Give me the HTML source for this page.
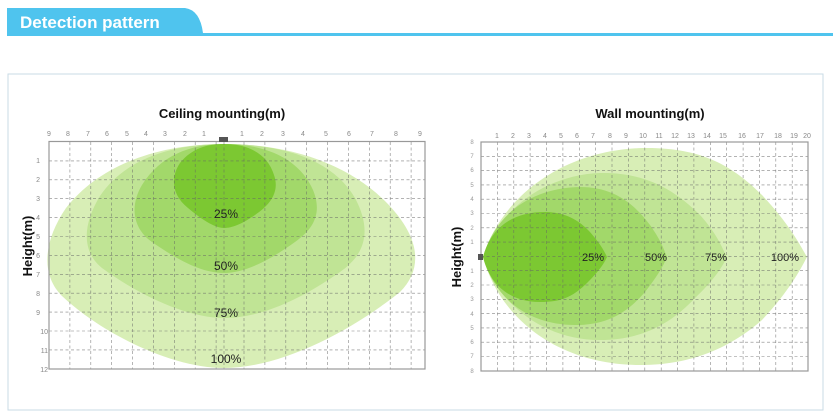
<!DOCTYPE html>
<html><head><meta charset="utf-8"><style>
html,body{margin:0;padding:0;background:#fff;width:833px;height:420px;overflow:hidden}
svg{display:block}
</style></head><body>
<svg width="833" height="420" viewBox="0 0 833 420" xmlns="http://www.w3.org/2000/svg" font-family="Liberation Sans, sans-serif">
<!-- header -->
<path d="M7,8 H185 Q200,10 203,33 H833 V36 H7 Z" fill="#4fc4ee"/>
<text x="20" y="28" fill="#fff" font-size="17" font-weight="bold">Detection pattern</text>
<rect x="8" y="74" width="815" height="336" fill="none" stroke="#c9dbe6" stroke-width="1"/>

<!-- LEFT CHART -->
<text x="222" y="118" text-anchor="middle" font-size="13" font-weight="bold" fill="#111">Ceiling mounting(m)</text>
<text transform="translate(32,246) rotate(-90)" text-anchor="middle" font-size="13" font-weight="bold" fill="#111">Height(m)</text>
<g>
<path d="M224,144 C300,144 360,170 395,212 C420,242 422,270 400,292 C350,332 280,368 224,368 C170,368 100,332 62,296 C40,274 44,240 66,208 C100,164 160,144 224,144 Z" fill="#d8eeb6"/>
<path d="M224,144 C290,144 335,163 355,198 C372,230 366,254 340,272 C300,300 260,318 224,318 C188,318 140,296 102,268 C80,250 84,222 100,196 C124,160 170,144 224,144 Z" fill="#c0e495"/>
<path d="M224,144 C268,144 300,160 313,190 C322,212 315,228 295,242 C270,260 245,273 224,273 C200,273 175,258 152,242 C132,228 130,205 142,185 C160,156 190,144 224,144 Z" fill="#a2d86a"/>
<path d="M224,144 C250,144 268,155 274,175 C280,192 270,205 255,215 C242,224 232,228 224,228 C214,228 200,218 188,208 C172,195 170,178 180,163 C192,148 208,144 224,144 Z" fill="#7cc832"/>
</g>
<g stroke="#666" stroke-width="0.6" stroke-dasharray="3,2.5" opacity="0.8">
<line x1="69.9" y1="142" x2="69.9" y2="369"/><line x1="90.8" y1="142" x2="90.8" y2="369"/><line x1="111.7" y1="142" x2="111.7" y2="369"/><line x1="132.6" y1="142" x2="132.6" y2="369"/><line x1="153.4" y1="142" x2="153.4" y2="369"/><line x1="174.3" y1="142" x2="174.3" y2="369"/><line x1="195.2" y1="142" x2="195.2" y2="369"/><line x1="216.1" y1="142" x2="216.1" y2="369"/><line x1="224" y1="142" x2="224" y2="369"/><line x1="244" y1="142" x2="244" y2="369"/><line x1="264.9" y1="142" x2="264.9" y2="369"/><line x1="285.8" y1="142" x2="285.8" y2="369"/><line x1="306.7" y1="142" x2="306.7" y2="369"/><line x1="327.6" y1="142" x2="327.6" y2="369"/><line x1="348.4" y1="142" x2="348.4" y2="369"/><line x1="369.3" y1="142" x2="369.3" y2="369"/><line x1="390.2" y1="142" x2="390.2" y2="369"/><line x1="411.1" y1="142" x2="411.1" y2="369"/>
<line x1="49" y1="160.9" x2="425" y2="160.9"/><line x1="49" y1="179.8" x2="425" y2="179.8"/><line x1="49" y1="198.7" x2="425" y2="198.7"/><line x1="49" y1="217.6" x2="425" y2="217.6"/><line x1="49" y1="236.5" x2="425" y2="236.5"/><line x1="49" y1="255.4" x2="425" y2="255.4"/><line x1="49" y1="274.3" x2="425" y2="274.3"/><line x1="49" y1="293.2" x2="425" y2="293.2"/><line x1="49" y1="312.1" x2="425" y2="312.1"/><line x1="49" y1="331" x2="425" y2="331"/><line x1="49" y1="349.9" x2="425" y2="349.9"/>
</g>
<rect x="49" y="141.5" width="376" height="227.5" fill="none" stroke="#999" stroke-width="1.2"/>
<rect x="219" y="137" width="9" height="5" fill="#555"/>
<g font-size="7" fill="#888" text-anchor="middle">
<text x="49" y="136">9</text><text x="68" y="136">8</text><text x="88" y="136">7</text><text x="107" y="136">6</text><text x="127" y="136">5</text><text x="146" y="136">4</text><text x="165" y="136">3</text><text x="185" y="136">2</text><text x="204" y="136">1</text><text x="242" y="136">1</text><text x="262" y="136">2</text><text x="283" y="136">3</text><text x="303" y="136">4</text><text x="326" y="136">5</text><text x="349" y="136">6</text><text x="372" y="136">7</text><text x="396" y="136">8</text><text x="420" y="136">9</text>
</g>
<g font-size="7" fill="#888" text-anchor="end">
<text x="40" y="163">1</text><text x="40" y="182">2</text><text x="40" y="201">3</text><text x="40" y="220">4</text><text x="40" y="239">5</text><text x="40" y="258">6</text><text x="40" y="277">7</text><text x="40" y="296">8</text><text x="40" y="315">9</text><text x="48" y="334">10</text><text x="48" y="353">11</text><text x="48" y="372">12</text>
</g>
<g font-size="12" fill="#222" text-anchor="middle">
<text x="226" y="218">25%</text><text x="226" y="270">50%</text><text x="226" y="317">75%</text><text x="226" y="363">100%</text>
</g>

<!-- RIGHT CHART -->
<text x="650" y="118" text-anchor="middle" font-size="13" font-weight="bold" fill="#111">Wall mounting(m)</text>
<text transform="translate(461,257) rotate(-90)" text-anchor="middle" font-size="13" font-weight="bold" fill="#111">Height(m)</text>
<g>
<path d="M483,257 C500,200 560,150 643,148 C700,147 732,165 762,195 C790,225 800,245 807,257 C800,270 790,290 762,320 C722,355 680,365 640,365 C560,365 500,320 483,257 Z" fill="#d8eeb6"/>
<path d="M483,257 C498,210 545,175 600,173 C645,172 675,190 700,215 C718,235 722,248 727,257 C722,268 712,282 695,298 C670,325 640,340 600,340 C545,340 498,305 483,257 Z" fill="#c0e495"/>
<path d="M483,257 C495,215 530,188 580,187 C615,187 635,205 650,225 C662,242 664,250 667,257 C663,267 656,278 645,292 C625,315 605,325 575,325 C530,325 495,300 483,257 Z" fill="#a2d86a"/>
<path d="M483,257 C492,225 515,212 545,212 C570,212 585,225 595,238 C603,248 605,253 607,257 C604,264 598,272 588,282 C572,298 560,302 540,302 C510,302 490,285 483,257 Z" fill="#7cc832"/>
</g>
<g stroke="#666" stroke-width="0.6" stroke-dasharray="3,2.5" opacity="0.8">
<line x1="497.4" y1="142" x2="497.4" y2="371"/><line x1="513.8" y1="142" x2="513.8" y2="371"/><line x1="530.1" y1="142" x2="530.1" y2="371"/><line x1="546.5" y1="142" x2="546.5" y2="371"/><line x1="562.9" y1="142" x2="562.9" y2="371"/><line x1="579.3" y1="142" x2="579.3" y2="371"/><line x1="595.7" y1="142" x2="595.7" y2="371"/><line x1="612" y1="142" x2="612" y2="371"/><line x1="628.4" y1="142" x2="628.4" y2="371"/><line x1="644.8" y1="142" x2="644.8" y2="371"/><line x1="661.2" y1="142" x2="661.2" y2="371"/><line x1="677.6" y1="142" x2="677.6" y2="371"/><line x1="693.9" y1="142" x2="693.9" y2="371"/><line x1="710.3" y1="142" x2="710.3" y2="371"/><line x1="726.7" y1="142" x2="726.7" y2="371"/><line x1="743.1" y1="142" x2="743.1" y2="371"/><line x1="759.5" y1="142" x2="759.5" y2="371"/><line x1="775.8" y1="142" x2="775.8" y2="371"/><line x1="792.2" y1="142" x2="792.2" y2="371"/>
<line x1="481" y1="156.3" x2="808" y2="156.3"/><line x1="481" y1="170.6" x2="808" y2="170.6"/><line x1="481" y1="184.9" x2="808" y2="184.9"/><line x1="481" y1="199.2" x2="808" y2="199.2"/><line x1="481" y1="213.5" x2="808" y2="213.5"/><line x1="481" y1="227.8" x2="808" y2="227.8"/><line x1="481" y1="242.1" x2="808" y2="242.1"/><line x1="481" y1="256.4" x2="808" y2="256.4"/><line x1="481" y1="270.7" x2="808" y2="270.7"/><line x1="481" y1="285" x2="808" y2="285"/><line x1="481" y1="299.3" x2="808" y2="299.3"/><line x1="481" y1="313.6" x2="808" y2="313.6"/><line x1="481" y1="327.9" x2="808" y2="327.9"/><line x1="481" y1="342.2" x2="808" y2="342.2"/><line x1="481" y1="356.5" x2="808" y2="356.5"/>
</g>
<rect x="481" y="142" width="327" height="229" fill="none" stroke="#999" stroke-width="1.2"/>
<rect x="478" y="254" width="5" height="6" fill="#555"/>
<g font-size="7" fill="#888" text-anchor="middle">
<text x="497" y="138">1</text><text x="513" y="138">2</text><text x="529" y="138">3</text><text x="545" y="138">4</text><text x="561" y="138">5</text><text x="577" y="138">6</text><text x="593" y="138">7</text><text x="610" y="138">8</text><text x="626" y="138">9</text><text x="643" y="138">10</text><text x="659" y="138">11</text><text x="675" y="138">12</text><text x="691" y="138">13</text><text x="707" y="138">14</text><text x="723" y="138">15</text><text x="742" y="138">16</text><text x="760" y="138">17</text><text x="778" y="138">18</text><text x="794" y="138">19</text><text x="807" y="138">20</text>
</g>
<g font-size="6" fill="#999" text-anchor="middle">
<text x="472" y="144">8</text><text x="472" y="158">7</text><text x="472" y="172">6</text><text x="472" y="187">5</text><text x="472" y="201">4</text><text x="472" y="215">3</text><text x="472" y="230">2</text><text x="472" y="244">1</text><text x="472" y="273">1</text><text x="472" y="287">2</text><text x="472" y="301">3</text><text x="472" y="316">4</text><text x="472" y="330">5</text><text x="472" y="344">6</text><text x="472" y="358">7</text><text x="472" y="373">8</text>
</g>
<g font-size="11" fill="#222" text-anchor="middle">
<text x="593" y="261">25%</text><text x="656" y="261">50%</text><text x="716" y="261">75%</text><text x="785" y="261">100%</text>
</g>
</svg>
</body></html>
